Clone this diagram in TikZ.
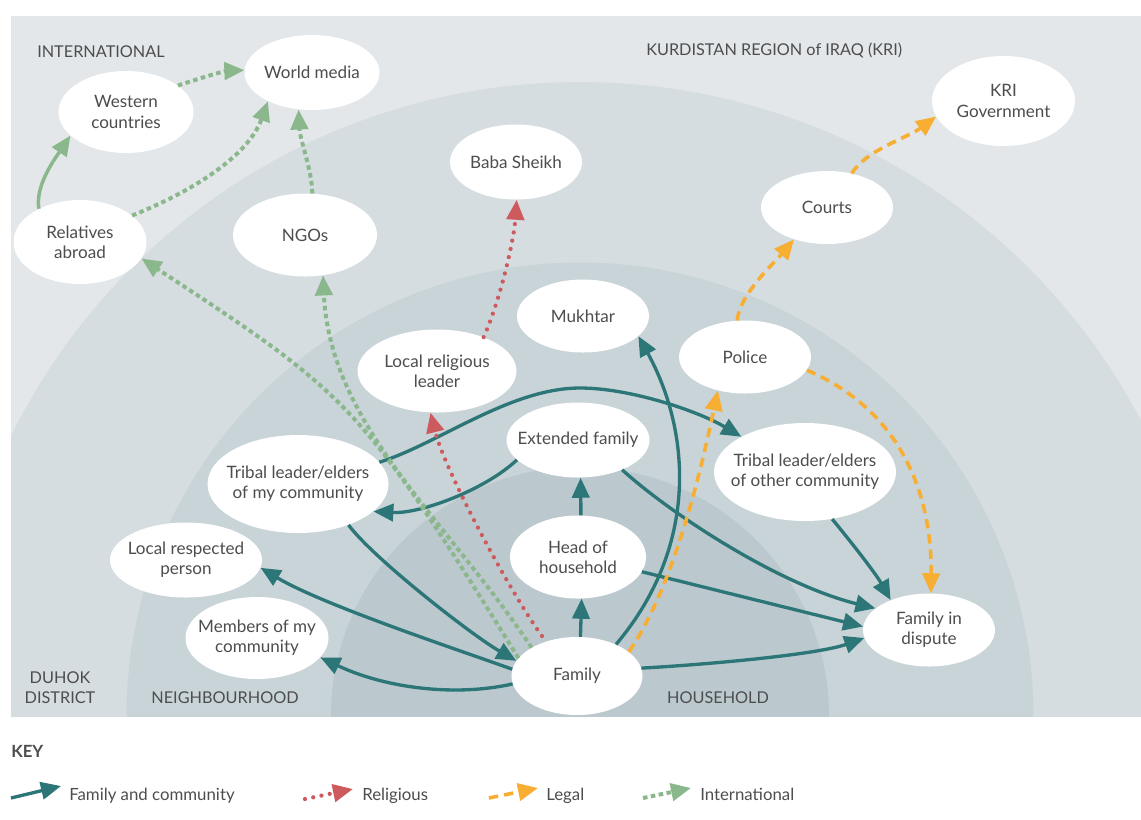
\documentclass[tikz,border=0pt]{standalone}
\usepackage{fontspec}
\setmainfont{Lato}
\usetikzlibrary{shapes.geometric,arrows.meta}
\definecolor{bgA}{HTML}{E3E7EA}
\definecolor{bgB}{HTML}{D5DDE0}
\definecolor{bgC}{HTML}{C9D4D8}
\definecolor{bgD}{HTML}{BBC9CF}
\definecolor{tealc}{HTML}{2C7678}
\definecolor{redc}{HTML}{CD5B5E}
\definecolor{orc}{HTML}{F8AE33}
\definecolor{grc}{HTML}{8BB78C}
\definecolor{tgray}{HTML}{4D4D4D}
\newcommand{\mkbub}[5]{%
  \node[bub, minimum width=#4*0.75pt, minimum height=#5*0.75pt] (#1) at (#2) {};
  \node[txt] (#1-t) at (#1) {#3};}
\begin{document}
\begin{tikzpicture}[x=0.75pt,y=-0.75pt,
  bub/.style={ellipse, fill=white, inner sep=0pt},
  txt/.style={text=tgray, font=\fontsize{12.8}{15.2}\selectfont, align=center, inner sep=0pt},
  zone/.style={text=tgray, font=\fontsize{12.2}{15}\selectfont, align=center, inner sep=0pt},
  keyt/.style={text=tgray, font=\fontsize{12.6}{15}\selectfont, inner sep=0pt, anchor=base west},
  tip/.style={-{Triangle[length=15pt,width=13pt]}},
  fc/.style={draw=tealc, line width=2.5pt, tip},
  rel/.style={draw=redc, line width=3.2pt, line cap=round, dash pattern=on 0pt off 6.3pt, tip},
  lgl/.style={draw=orc, line width=2.7pt, dash pattern=on 7pt off 4.5pt, tip},
  intl/.style={draw=grc, line width=3pt, dash pattern=on 3.4pt off 2.6pt, tip},
  ints/.style={draw=grc, line width=2.6pt, tip}]
\useasboundingbox (0,0) rectangle (1141,819);
% background panel and rings
\fill[bgA] (11,16) rectangle (1141,716);
\begin{scope}
  \clip (11,16) rectangle (1141,716);
  \fill[bgB] (580,716) circle[radius=475.5pt];
  \fill[bgC] (580,716) circle[radius=340.1pt];
  \fill[bgD] (580,716) circle[radius=186.75pt];
\end{scope}
% zone labels
\node[zone, anchor=base west] (zint) at (37,57) {INTERNATIONAL};
\node[zone, anchor=base west] (zkri) at (646,55) {KURDISTAN REGION of IRAQ (KRI)};
\node[zone, anchor=base] (zdis1) at (60,683) {DUHOK};
\node[zone, anchor=base] (zdis2) at (60,703) {DISTRICT};
\node[zone, anchor=base] (znb) at (225,703) {NEIGHBOURHOOD};
\node[zone, anchor=base] (zhh) at (718,703) {HOUSEHOLD};
% bubbles
\mkbub{wm}{312,72.5}{World media}{135}{75}
\mkbub{wc}{126,112}{Western\\countries}{135}{82}
\mkbub{ra}{80,242}{Relatives\\abroad}{133}{84}
\mkbub{ngo}{305,235}{NGOs}{144}{83}
\mkbub{bs}{516,162}{Baba Sheikh}{132}{75}
\mkbub{lrl}{437,371}{Local religious\\leader}{159}{83}
\mkbub{mk}{583,316}{Mukhtar}{132}{73}
\mkbub{pol}{745,357}{Police}{132}{73}
\mkbub{crt}{827,207.5}{Courts}{132}{73}
\mkbub{kri}{1003.5,101}{KRI\\Government}{143}{90}
\mkbub{ext}{578,440}{Extended family}{143}{75}
\mkbub{tmy}{298,484}{Tribal leader/elders\\of my community}{181}{98}
\mkbub{toc}{805,472}{Tribal leader/elders\\of other community}{182}{98}
\mkbub{lrp}{186,560}{Local respected\\person}{152}{75}
\mkbub{mem}{257,638}{Members of my\\community}{143}{82}
\mkbub{hoh}{578,557}{Head of\\household}{136}{83}
\mkbub{fam}{577,676}{Family}{131}{78}
\mkbub{fid}{929,630}{Family in\\dispute}{132}{73}
% family and community
\draw[fc] (fam.187) .. controls (455,697) and (385,688) .. (mem.-17);
\draw[fc] (fam.174) .. controls (456,649) and (323,605) .. (lrp.-6);
\draw[fc] (tmy.-39) .. controls (372,557) and (470,634) .. (fam.166);
\draw[fc] (ext.198) .. controls (485,490) and (420,514) .. (tmy.-20);
\coordinate (b5) at (580,388);
\draw[fc] (tmy.15) .. controls (438,444) and (510,388) .. (b5) .. controls (630,388) and (698,411) .. (toc.151);
\draw[fc] (fam.85) -- (hoh.-85);
\draw[fc] (hoh.86) -- (ext.-86);
\draw[fc] (fam.39) .. controls (700,545) and (690,430) .. (mk.-20);
\draw[fc] (ext.-34) .. controls (672,515) and (780,585) .. (fid.158);
\draw[fc] (hoh.-13) -- (fid.177);
\draw[fc] (fam.7) .. controls (700,665) and (816,655) .. (fid.187);
\draw[fc] (toc.-60) .. controls (852,543) and (876,574) .. (fid.142);
% religious
\draw[rel, shorten <=5pt] (fam.132) .. controls (510,592) and (445,471) .. (lrl.-99);
\draw[rel] (lrl.36) .. controls (500,301) and (514,240) .. (bs.-89);
% legal
\draw[lgl] (fam.25) .. controls (672,589) and (699,480) .. (pol.-129);
\draw[lgl] (pol.102) .. controls (739,295) and (775,262) .. (crt.-136);
\draw[lgl] (crt.54) .. controls (866,150) and (908,137.5) .. (kri.-167);
\draw[lgl] (pol.-12) .. controls (905,412) and (932,500) .. (fid.87);
% international
\draw[intl] (fam.163) .. controls (360,403) and (351,396) .. (ra.-15);
\draw[intl] (fam.148) .. controls (446,519) and (330,425) .. (ngo.-66);
\draw[ints] (ra.141) .. controls (35,186) and (54,160) .. (wc.203);
\draw[intl] (ra.27) .. controls (189,193) and (248,157) .. (wm.-147);
\draw[intl] (ngo.80) .. controls (312,170) and (300,140) .. (wm.-110);
\draw[intl] (wc.27) .. controls (200,78) and (225,71) .. (wm.178);
% key
\node[keyt, font=\fontsize{12.6}{15}\selectfont\bfseries] (key) at (11,757) {KEY};
\coordinate (k1s) at (11,798); \coordinate (k1e) at (61,786);
\draw[fc] (k1s) -- (k1e);
\node[keyt] (k1t) at (69,800) {Family and community};
\coordinate (k2s) at (305,799); \coordinate (k2e) at (353,789);
\draw[rel] (k2s) -- (k2e);
\node[keyt] (k2t) at (362,800) {Religious};
\coordinate (k3s) at (489,798); \coordinate (k3e) at (538,788);
\draw[lgl] (k3s) -- (k3e);
\node[keyt] (k3t) at (546,800) {Legal};
\coordinate (k4s) at (643,798); \coordinate (k4e) at (691,788);
\draw[intl] (k4s) -- (k4e);
\node[keyt] (k4t) at (700,800) {International};
\end{tikzpicture}
\end{document}
